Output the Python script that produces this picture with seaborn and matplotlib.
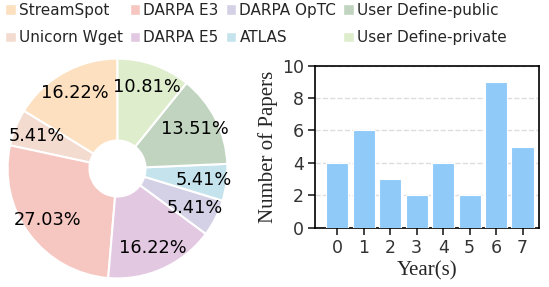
import numpy as np
import pandas as pd
import seaborn as sns
import matplotlib.pyplot as plt
from matplotlib.patches import Patch

# pie data (paper counts per dataset)
datasets = ["StreamSpot", "Unicorn Wget", "DARPA E3", "DARPA E5",
            "DARPA OpTC", "ATLAS", "User Define-public", "User Define-private"]
counts = [6, 2, 10, 6, 2, 2, 5, 4]
colors = ["#FCE0BF", "#F3DBD0", "#F6C6C0", "#E3C8E2",
          "#D4D0E6", "#C5E3EC", "#C0D4BF", "#DEEDCB"]

# bar data
years = [0, 1, 2, 3, 4, 5, 6, 7]
papers = [4, 6, 3, 2, 4, 2, 9, 5]

sns.set_style("white")
plt.rcParams["font.family"] = ["DejaVu Sans"]

fig = plt.figure(figsize=(5.49, 2.87), dpi=100)

# pie, centre ~(117.5, 168.5) px, radius ~110 px
ax1 = fig.add_axes([0.0118, 0.0261, 0.4044, 0.7735])
wedges, texts, autotexts = ax1.pie(
    counts, colors=colors, startangle=90, autopct="%.2f%%", pctdistance=0.79,
    wedgeprops=dict(width=0.745, edgecolor="white", linewidth=1.5),
    textprops=dict(fontsize=12.8, color="black"))
ax1.set_xlim(-1.01, 1.01)
ax1.set_ylim(-1.01, 1.01)
ax1.set_aspect("equal")

handles = [Patch(facecolor=c, label=d) for c, d in zip(colors, datasets)]
fig.legend(handles=handles, loc="upper left", bbox_to_anchor=(5 / 549, 1 - 3 / 287),
           ncol=4, frameon=False, fontsize=11, handlelength=0.7, handleheight=0.7,
           handletextpad=0.2, columnspacing=0.45, borderaxespad=0, borderpad=0,
           labelspacing=0.8)

ax2 = fig.add_axes([0.5738, 0.2066, 0.408, 0.5645])
df = pd.DataFrame({"Year": years, "Papers": papers})
sns.barplot(data=df, x="Year", y="Papers", color="#90CAF9", saturation=1,
            width=0.84, edgecolor="white", linewidth=0.8, ax=ax2, zorder=3)
ax2.set_xlim(-0.84, 7.62)
ax2.set_ylim(0, 10)
ax2.set_yticks([0, 2, 4, 6, 8, 10])
ax2.yaxis.grid(True, linestyle="--", color="#dddddd", linewidth=1, zorder=0)
ax2.set_axisbelow(True)
for s in ax2.spines.values():
    s.set_color("black")
    s.set_linewidth(1.2)
ax2.tick_params(axis="both", labelsize=12.5, labelcolor="#333333", length=5,
                width=1.2, color="#222222", direction="out", bottom=True, left=True,
                pad=3)
ax2.set_xlabel("Year(s)", fontsize=15, family="Liberation Serif", labelpad=3)
ax2.set_ylabel("Number of Papers", fontsize=15, family="Liberation Serif", labelpad=3)

fig.savefig("out.png", dpi=100)
